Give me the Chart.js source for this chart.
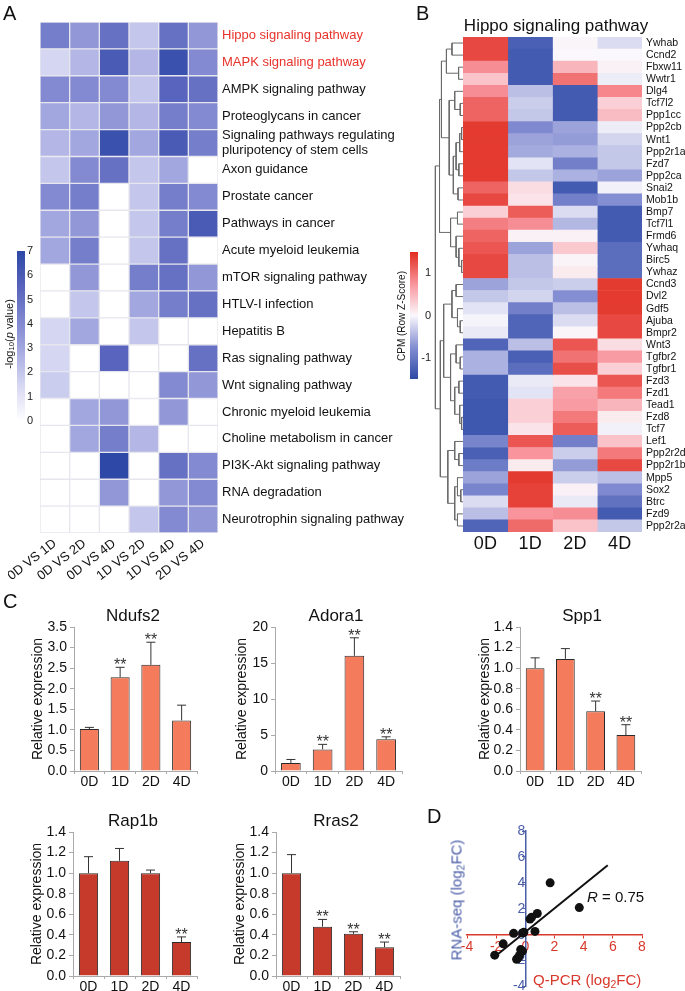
<!DOCTYPE html>
<html>
<head>
<meta charset="utf-8">
<script src="https://cdn.jsdelivr.net/npm/chart.js@4.4.1/dist/chart.umd.min.js"></script>
<style>
body { margin: 0; background: #fff; }
#page { position: relative; width: 685px; height: 991px; overflow: hidden; font-family: "Liberation Sans", Arial, sans-serif; color: #111; }
#page canvas { position: absolute; }
.t { position: absolute; white-space: nowrap; line-height: 1; font-weight: normal; }
.c { transform: translate(-50%, -50%); }
.r { transform: translate(-50%, -50%) rotate(-90deg); }
sub { font-size: 0.7em; vertical-align: -0.25em; line-height: 0; }
</style>
</head>
<body>
<div id="page"></div>
<script>
// ---------- panel A: KEGG enrichment heatmap ----------
const comparisons = ['0D VS 1D', '0D VS 2D', '0D VS 4D', '1D VS 2D', '1D VS 4D', '2D VS 4D'];
const pathways = [
  'Hippo signaling pathway', 'MAPK signaling pathway', 'AMPK signaling pathway',
  'Proteoglycans in cancer', ['Signaling pathways regulating', 'pluripotency of stem cells'],
  'Axon guidance', 'Prostate cancer', 'Pathways in cancer', 'Acute myeloid leukemia',
  'mTOR signaling pathway', 'HTLV-I infection', 'Hepatitis B', 'Ras signaling pathway',
  'Wnt signaling pathway', 'Chronic myeloid leukemia', 'Choline metabolism in cancer',
  'PI3K-Akt signaling pathway', 'RNA degradation', 'Neurotrophin signaling pathway'
];
// -log10(p) per comparison, one value per pathway (0 = not enriched)
const vs0D1D = [4.5, 1.5, 4, 3, 2.5, 2, 4, 3, 3, 0, 0, 1.5, 1.5, 1.8, 0, 0, 0, 0, 0];
const vs0D2D = [3.5, 2.5, 4, 2.5, 3, 4, 4.5, 3.5, 4.5, 3.5, 2, 3, 0, 0, 3, 3, 0, 0, 0];
const vs0D4D = [5, 6, 4, 3.5, 6.5, 5, 0, 0, 0, 0, 0, 0, 5.5, 0, 3.5, 4.5, 7, 3.5, 0];
const vs1D2D = [2, 2.5, 2, 2.5, 3, 2, 2, 2, 2, 4.5, 3, 2, 0, 0, 0, 2.5, 0, 0, 2];
const vs1D4D = [5, 6.5, 5.5, 4.5, 6, 3, 4.5, 4.5, 5, 5, 4.5, 0, 0, 4, 3.5, 0, 5, 3.5, 4];
const vs2D4D = [3.5, 4, 5, 4, 4.5, 0, 4, 6, 0, 3.5, 5, 0, 5, 3.5, 0, 0, 4, 4, 3.5];
const logpTicks = [0, 1, 2, 3, 4, 5, 6, 7];

// ---------- panel B: Hippo pathway z-scores ----------
const dayCols = ['0D', '1D', '2D', '4D'];
const genes = ['Ywhab', 'Ccnd2', 'Fbxw11', 'Wwtr1', 'Dlg4', 'Tcf7l2', 'Ppp1cc', 'Ppp2cb', 'Wnt1', 'Ppp2r1a',
  'Fzd7', 'Ppp2ca', 'Snai2', 'Mob1b', 'Bmp7', 'Tcf7l1', 'Frmd6', 'Ywhaq', 'Birc5', 'Ywhaz',
  'Ccnd3', 'Dvl2', 'Gdf5', 'Ajuba', 'Bmpr2', 'Wnt3', 'Tgfbr2', 'Tgfbr1', 'Fzd3', 'Fzd1',
  'Tead1', 'Fzd8', 'Tcf7', 'Lef1', 'Ppp2r2d', 'Ppp2r1b', 'Mpp5', 'Sox2', 'Btrc', 'Fzd9', 'Ppp2r2a'];
const z0D = [1.3, 1.3, 0.8, 0.4, 0.8, 1.1, 1.1, 1.4, 1.4, 1.4, 1.4, 1.4, 1.1, 1.3, 0.3, 0.9, 1.1, 1.2, 1.3, 1.3,
  -0.6, -0.35, -0.15, -0.03, -0.1, -1.2, -0.5, -0.5, -1.3, -1.3, -1.35, -1.35, -1.35, -0.85, -1.25, -0.95, -0.6, -0.85, -0.2, -0.4, -1.2];
const z1D = [-1.25, -1.3, -1.3, -1.3, -0.4, -0.3, -0.35, -0.8, -0.6, -0.55, -0.15, -0.35, 0.2, 0.15, 1.15, 0.8, 0.05, -0.6, -0.4, -0.4,
  -0.35, -0.25, -0.9, -1.2, -1.2, -0.4, -1.25, -1.1, -0.1, -0.15, 0.3, 0.3, 0.15, 1.2, 0.75, 0.1, 1.4, 1.35, 1.35, 0.75, 1.05];
const z2D = [0.02, 0, 0.5, 1.0, -1.3, -1.3, -1.3, -0.6, -0.65, -0.5, -0.9, -0.5, -1.3, -0.9, -0.2, -0.45, 0.05, 0.35, 0.03, 0.1,
  -0.3, -0.75, -0.4, -0.2, 0.02, 1.2, 1.0, 1.25, 0.15, 0.65, 0.7, 0.95, 1.15, -0.9, -0.3, -0.65, -0.3, 0.05, -0.1, 0.8, 0.4];
const z4D = [-0.2, 0, 0.05, -0.08, 0.85, 0.3, 0.45, -0.08, -0.25, -0.35, -0.35, -0.6, -0.05, -0.75, -1.3, -1.3, -1.3, -1.1, -1.1, -1.1,
  1.4, 1.4, 1.4, 1.3, 1.3, 0.2, 0.7, 0.3, 1.2, 0.95, 0.5, 0.1, -0.05, 0.4, 0.95, 1.3, -0.4, -0.8, -1.05, -1.3, -0.35];
const zTicks = [-1, 0, 1];
// row dendrogram: [childA, childB, height]; leaves are 0..40, each merge gets the next id
const treeMerges = [
  [0, 1, 0.40], [2, 3, 0.16], [41, 42, 0.60], [5, 6, 0.10], [4, 44, 0.30], [7, 8, 0.05], [46, 9, 0.12],
  [10, 11, 0.15], [47, 48, 0.25], [12, 13, 0.18], [49, 50, 0.35], [45, 51, 0.50], [43, 52, 0.78],
  [18, 19, 0.05], [17, 54, 0.15], [16, 55, 0.25], [14, 15, 0.20], [57, 56, 0.45], [53, 58, 0.85],
  [20, 21, 0.25], [23, 24, 0.10], [22, 61, 0.20], [60, 62, 0.40], [26, 27, 0.10], [25, 64, 0.25],
  [28, 29, 0.15], [31, 32, 0.05], [30, 67, 0.12], [66, 68, 0.30], [65, 69, 0.45], [63, 70, 0.70],
  [34, 35, 0.15], [33, 72, 0.30], [37, 38, 0.08], [36, 74, 0.20], [39, 40, 0.20], [75, 76, 0.30],
  [73, 77, 0.55], [71, 78, 0.82], [59, 79, 1.0]
];

// ---------- panel C: qPCR validation ----------
const days = ['0D', '1D', '2D', '4D'];
const ndufs2Mean = [1.02, 2.28, 2.58, 1.23];
const ndufs2Top = [1.06, 2.52, 3.13, 1.6];
const ndufs2Stars = ['', '**', '**', ''];
const adora1Mean = [1.1, 3.0, 16.0, 4.4];
const adora1Top = [1.6, 3.7, 18.5, 4.75];
const adora1Stars = ['', '**', '**', '**'];
const spp1Mean = [1.0, 1.09, 0.58, 0.35];
const spp1Top = [1.1, 1.19, 0.68, 0.45];
const spp1Stars = ['', '', '**', '**'];
const rap1bMean = [1.0, 1.12, 1.0, 0.33];
const rap1bTop = [1.16, 1.24, 1.03, 0.38];
const rap1bStars = ['', '', '', '**'];
const rras2Mean = [1.0, 0.48, 0.41, 0.28];
const rras2Top = [1.18, 0.55, 0.43, 0.33];
const rras2Stars = ['', '**', '**', '**'];

// ---------- panel D: RNA-seq vs qPCR ----------
const qpcrFC = [1.7, 3.7, 0.82, 0.32, 0.43, 0.66, -0.19, -0.1, -0.8, -1.52, -2.1, -0.32, -0.19, -0.49, -0.6, -0.4];
const rnaseqFC = [4.0, 2.09, 1.63, 1.2, 1.35, 0.25, 0.13, 0.18, 0.1, -0.71, -1.58, -1.15, -1.27, -1.78, -1.9, -1.6];
const fitX = [-2.1, 5.65];
const fitY = [-1.7, 5.35];

// ---------- helpers ----------
const FONT = '"Liberation Sans", Arial, sans-serif';
Chart.defaults.font.family = FONT;
Chart.defaults.color = '#111';
Chart.defaults.animation = false;
Chart.defaults.responsive = false;
Chart.defaults.devicePixelRatio = 1;
Chart.defaults.events = [];
Chart.defaults.plugins.legend.display = false;
Chart.defaults.plugins.tooltip.enabled = false;

const page = document.getElementById('page');
const blueStops = [[0, [255, 255, 255]], [1.5, [213, 214, 242]], [3.5, [146, 151, 216]], [5.5, [88, 100, 189]], [7, [45, 72, 167]]];
const zStops = [[-1.5, [45, 73, 166]], [-0.75, [132, 142, 210]], [0, [250, 248, 252]], [0.75, [249, 148, 156]], [1.5, [225, 45, 32]]];
const RED = '#d9382c', BLUE = '#4b5ea8';

const rgb = c => `rgb(${c.map(Math.round).join(',')})`;
function ramp(stops, v) {
  if (v <= stops[0][0]) return rgb(stops[0][1]);
  for (let i = 1; i < stops.length; i++) {
    if (v <= stops[i][0]) {
      const [v0, c0] = stops[i - 1], [v1, c1] = stops[i];
      const t = (v - v0) / (v1 - v0);
      return rgb(c0.map((c, k) => c + (c1[k] - c) * t));
    }
  }
  return rgb(stops[stops.length - 1][1]);
}
function rampGradient(stops) {
  const lo = stops[0][0], hi = stops[stops.length - 1][0];
  return ctx => {
    const area = ctx.chart.chartArea;
    if (!area) return null;
    const g = ctx.chart.ctx.createLinearGradient(0, area.bottom, 0, area.top);
    stops.forEach(([v, c]) => g.addColorStop((v - lo) / (hi - lo), rgb(c)));
    return g;
  };
}
function makeCanvas(left, top, w, h) {
  const c = document.createElement('canvas');
  c.width = w; c.height = h;
  c.style.cssText = `left:${left}px;top:${top}px;width:${w}px;height:${h}px`;
  page.appendChild(c);
  return c;
}
// fixed axis thickness so chart areas land where the figure has them
function fixAxis(size) {
  return scale => {
    if (scale.isHorizontal()) scale.height = size; else scale.width = size;
    scale.paddingTop = scale.paddingBottom = scale.paddingLeft = scale.paddingRight = 0;
  };
}
function text(html, x, y, css, cls) {
  const d = document.createElement('div');
  d.className = 't ' + (cls || '');
  d.innerHTML = html;
  d.style.cssText = `left:${x}px;top:${y}px;` + (css || '');
  page.appendChild(d);
}

function heatmap(canvas, rows, cols, columns, colorOf, o) {
  return new Chart(canvas, {
    type: 'bar',
    data: {
      labels: rows,
      datasets: columns.map((vals, j) => ({
        data: rows.map(() => [j, j + 1]),
        backgroundColor: vals.map(colorOf),
        borderColor: o.borderColor,
        borderWidth: o.borderWidth,
        borderSkipped: false,
        grouped: false,
        barPercentage: 1,
        categoryPercentage: 1
      }))
    },
    options: {
      indexAxis: 'y',
      layout: { padding: o.padding },
      scales: {
        x: {
          type: 'linear', min: 0, max: cols.length,
          afterBuildTicks: s => { s.ticks = cols.map((c, i) => ({ value: i + 0.5 })); },
          ticks: { callback: (v, i) => cols[i], minRotation: o.rot, maxRotation: o.rot, font: { size: o.xFont }, padding: o.xPad, autoSkip: false },
          grid: { display: false, drawTicks: false },
          border: { display: false },
          afterFit: fixAxis(o.xH)
        },
        y: {
          position: 'right',
          ticks: { font: { size: o.yFont }, padding: 4, autoSkip: false, color: o.yColor || '#111' },
          grid: { display: false, drawTicks: false },
          border: { display: false },
          afterFit: fixAxis(o.yW)
        }
      }
    }
  });
}

function colorBar(canvas, stops, tickVals, padTop, padBottom, axW, align, pad) {
  const lo = stops[0][0], hi = stops[stops.length - 1][0];
  return new Chart(canvas, {
    type: 'bar',
    data: { labels: [''], datasets: [{ data: [[lo, hi]], backgroundColor: rampGradient(stops), barPercentage: 1, categoryPercentage: 1, borderWidth: 0 }] },
    options: {
      layout: { padding: { top: padTop, bottom: padBottom } },
      scales: {
        x: { display: false },
        y: {
          position: 'right', min: lo, max: hi,
          afterBuildTicks: s => { s.ticks = tickVals.map(v => ({ value: v })); },
          ticks: { font: { size: 11 }, padding: pad, crossAlign: align, color: '#222' },
          grid: { display: false, drawTicks: false },
          border: { display: false },
          afterFit: fixAxis(axW)
        }
      }
    }
  });
}

// ---------- A ----------
heatmap(makeCanvas(8, 22, 402, 561), pathways, comparisons,
  [vs0D1D, vs0D2D, vs0D4D, vs1D2D, vs1D4D, vs2D4D], v => ramp(blueStops, v), {
    padding: { left: 32, top: 0, right: 0, bottom: 0 },
    borderColor: '#e6e6ee', borderWidth: 1, rot: 38, xFont: 13, xPad: 3, xH: 50,
    yFont: 13, yW: 192, yColor: c => (c.index < 2 ? '#e8322a' : '#111')
  });
colorBar(makeCanvas(17, 244, 28, 185), blueStops, logpTicks, 7, 8, 20, 'near', 2);

// ---------- B ----------
heatmap(makeCanvas(463, 37, 224, 523), genes, dayCols, [z0D, z1D, z2D, z4D], v => ramp(zStops, v), {
  padding: { left: 0, top: 0, right: 0, bottom: 0 },
  borderColor: 'rgba(0,0,0,0)', borderWidth: 0, rot: 0, xFont: 18, xPad: 1, xH: 28,
  yFont: 10.5, yW: 45
});
colorBar(makeCanvas(410, 245, 21, 142), zStops, zTicks, 7, 8, 13, 'far', 2);

const nodeX = genes.map(() => 0);
const nodeY = genes.map((g, i) => i);
const treeSets = treeMerges.map(([a, b, h]) => {
  const seg = [
    { x: nodeX[a], y: nodeY[a] }, { x: h, y: nodeY[a] },
    { x: h, y: nodeY[b] }, { x: nodeX[b], y: nodeY[b] }
  ];
  nodeX.push(h);
  nodeY.push((nodeY[a] + nodeY[b]) / 2);
  return { data: seg, showLine: true, pointRadius: 0, borderColor: '#6a6a6a', borderWidth: 1, clip: false };
});
new Chart(makeCanvas(434, 37, 29, 495), {
  type: 'scatter',
  data: { datasets: treeSets },
  options: {
    layout: { padding: 0 },
    scales: {
      x: { display: false, min: 0, max: 1.05, reverse: true },
      y: { display: false, min: -0.5, max: genes.length - 0.5, reverse: true }
    }
  }
});

// ---------- C ----------
const errorBars = {
  id: 'errorBars',
  afterDatasetsDraw(chart) {
    const ds = chart.data.datasets[0];
    const bars = chart.getDatasetMeta(0).data;
    const y = chart.scales.y, c = chart.ctx;
    c.save();
    c.strokeStyle = '#333'; c.fillStyle = '#333'; c.lineWidth = 1;
    c.font = '16px ' + FONT; c.textAlign = 'center'; c.textBaseline = 'alphabetic';
    bars.forEach((bar, i) => {
      const top = y.getPixelForValue(ds.errTop[i]);
      c.beginPath();
      c.moveTo(bar.x, bar.y); c.lineTo(bar.x, top);
      c.moveTo(bar.x - 4.5, top); c.lineTo(bar.x + 4.5, top);
      c.stroke();
      if (ds.stars[i]) c.fillText(ds.stars[i], bar.x, top + 3);
    });
    c.restore();
  }
};
function exprChart(l, t, r, b, axW, mean, top, stars, color, yMax, step, digits) {
  return new Chart(makeCanvas(l - axW, t - 10, axW + r - l + 6, b - t + 32), {
    type: 'bar',
    data: { labels: days, datasets: [{ data: mean, errTop: top, stars: stars, backgroundColor: color, borderColor: '#2a2a2a', borderWidth: 1, barPercentage: 0.62, categoryPercentage: 1 }] },
    plugins: [errorBars],
    options: {
      layout: { padding: { top: 10, right: 6, left: 0, bottom: 0 } },
      scales: {
        x: {
          grid: { offset: true, drawOnChartArea: false, tickLength: 3, color: '#aaa' },
          border: { color: '#aaa' },
          ticks: { font: { size: 14 }, padding: 0 },
          afterFit: fixAxis(22)
        },
        y: {
          min: 0, max: yMax,
          ticks: { stepSize: step, font: { size: 14 }, padding: 3, callback: v => v.toFixed(digits) },
          grid: { drawOnChartArea: false, tickLength: 4, color: '#aaa' },
          border: { color: '#aaa' },
          title: { display: true, text: 'Relative expression', font: { size: 14 }, padding: 0 },
          afterFit: fixAxis(axW)
        }
      }
    }
  });
}
const SALMON = '#f47b5c', BRICK = '#c53a2b';
exprChart(74, 627, 197, 771, 44, ndufs2Mean, ndufs2Top, ndufs2Stars, SALMON, 3.5, 0.5, 1);
exprChart(275, 627, 402, 771, 41, adora1Mean, adora1Top, adora1Stars, SALMON, 20, 5, 0);
exprChart(520, 627, 641, 771, 43, spp1Mean, spp1Top, spp1Stars, SALMON, 1.4, 0.2, 1);
exprChart(73, 832, 197, 976, 44, rap1bMean, rap1bTop, rap1bStars, BRICK, 1.4, 0.2, 1);
exprChart(276, 832, 400, 976, 44, rras2Mean, rras2Top, rras2Stars, BRICK, 1.4, 0.2, 1);

// ---------- D ----------
// axes cross at zero, so they take no layout room
new Chart(makeCanvas(440, 815, 230, 176), {
  type: 'scatter',
  data: {
    datasets: [
      { data: fitX.map((x, i) => ({ x, y: fitY[i] })), showLine: true, pointRadius: 0, borderColor: '#111', borderWidth: 2 },
      { data: qpcrFC.map((x, i) => ({ x, y: rnaseqFC[i] })), pointRadius: 4.5, backgroundColor: '#111', borderWidth: 0 }
    ]
  },
  options: {
    layout: { padding: { left: 27, top: 16, right: 28, bottom: 4 } },
    scales: {
      x: {
        min: -4, max: 8, position: { y: 0 },
        ticks: { stepSize: 2, color: RED, font: { size: 14 }, padding: 1 },
        grid: { drawOnChartArea: false, tickLength: 3, color: RED },
        border: { color: RED, width: 1.5 },
        afterFit: fixAxis(0)
      },
      y: {
        min: -4, max: 8, position: { x: 0 },
        ticks: { stepSize: 2, color: BLUE, font: { size: 14 }, padding: 1 },
        grid: { drawOnChartArea: false, tickLength: 3, color: BLUE },
        border: { color: BLUE, width: 1.5 },
        afterFit: fixAxis(0)
      }
    }
  }
});

// ---------- text ----------
text('A', 3, 3, 'font-size:20px');
text('B', 416, 3, 'font-size:20px');
text('C', 3, 591, 'font-size:20px');
text('D', 427, 806, 'font-size:20px');
text('-log<sub>10</sub>(<i>p</i> value)', 9, 334, 'font-size:11px', 'r');
text('CPM (Row Z-Score)', 402, 316, 'font-size:10px', 'r');
text('Hippo signaling pathway', 556, 25, 'font-size:17px', 'c');
text('Ndufs2', 133, 615, 'font-size:17px', 'c');
text('Adora1', 336, 615, 'font-size:17px', 'c');
text('Spp1', 582, 615, 'font-size:17px', 'c');
text('Rap1b', 133, 820, 'font-size:17px', 'c');
text('Rras2', 336, 820, 'font-size:17px', 'c');
text('<i>R</i> = 0.75', 587, 889, 'font-size:15px');
text('Q-PCR (log<sub>2</sub>FC)', 533, 972, 'font-size:15px;color:' + RED);
text('RNA-seq (log<sub>2</sub>FC)', 456, 900, 'font-size:15px;color:' + BLUE, 'r');
</script>
</body>
</html>
